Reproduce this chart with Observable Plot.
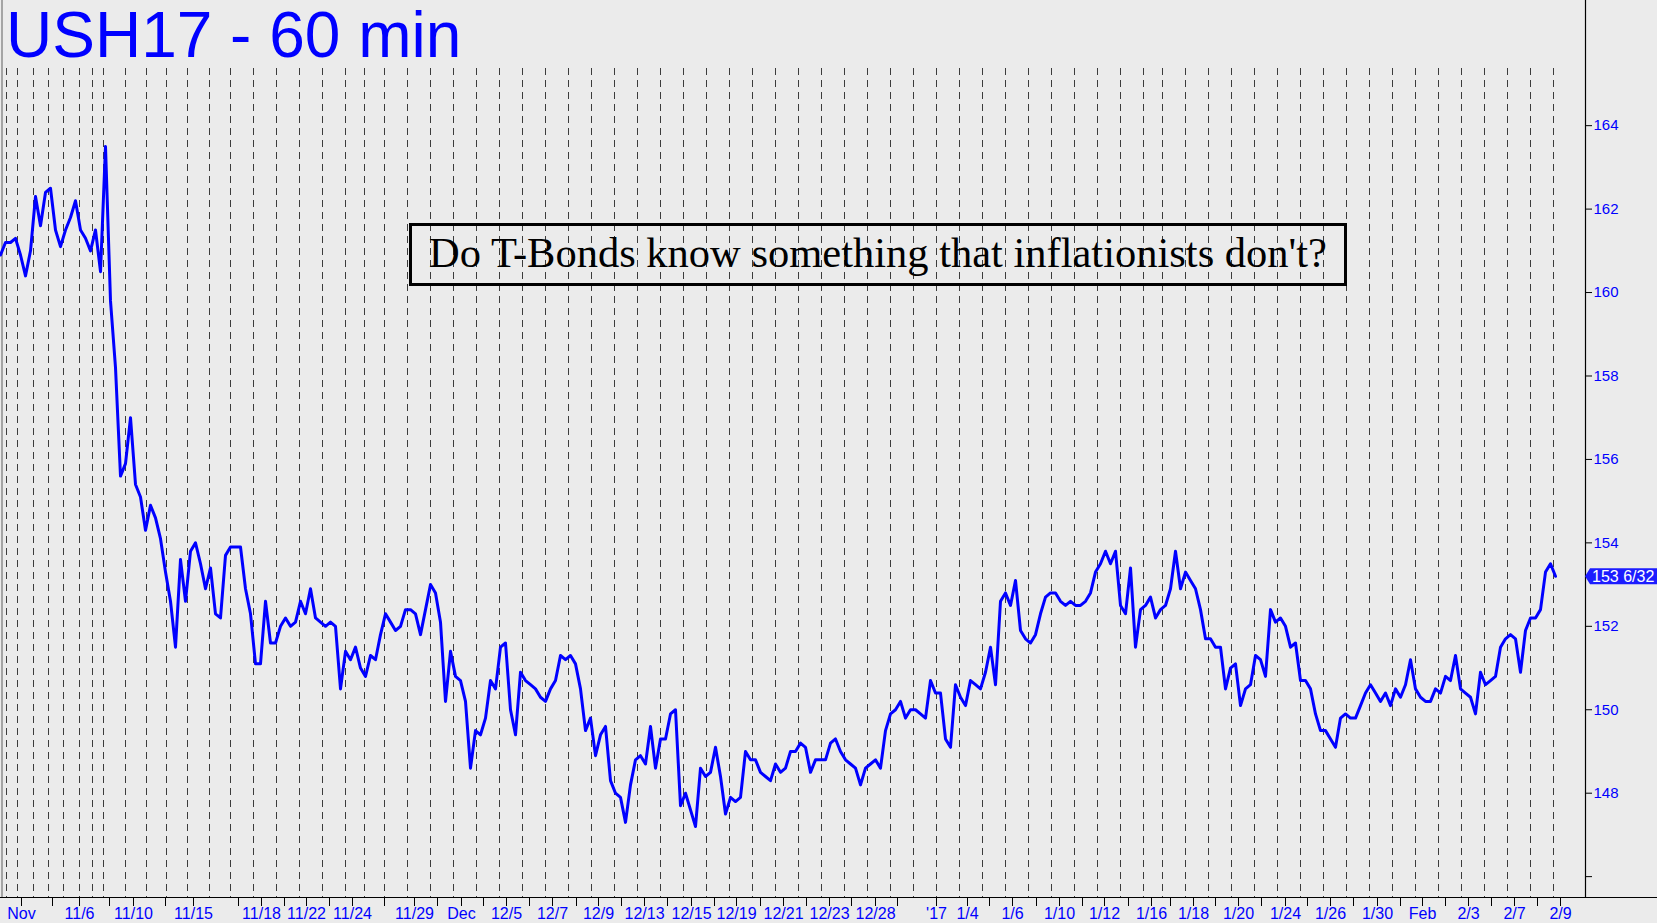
<!DOCTYPE html>
<html><head><meta charset="utf-8">
<script src="https://cdn.jsdelivr.net/npm/d3@7"></script>
<script src="https://cdn.jsdelivr.net/npm/@observablehq/plot@0.6"></script>
<style>
html,body{margin:0;padding:0;background:#ebebeb;}
#wrap{position:relative;width:1657px;height:923px;overflow:hidden;background:#ebebeb;}
#chart svg{display:block;}
#title{position:absolute;left:6px;top:2.5px;font-family:"Liberation Sans",Arial,sans-serif;font-size:64px;line-height:64px;color:#0000ff;white-space:nowrap;}
#note{position:absolute;left:409px;top:223px;width:938px;height:63px;box-sizing:border-box;border:3px solid #000;font-family:"Liberation Serif","Times New Roman",serif;font-size:42.5px;color:#000;text-align:center;line-height:53px;white-space:nowrap;}
</style></head>
<body><div id="wrap"><div id="chart"></div><div id="title">USH17 - 60 min</div><div id="note">Do T-Bonds know something that inflationists don't?</div></div>
<script>
// hourly bars, sampled every 5 bars
const barStep = 5;
const prices = [
160.9,161.2,161.2,161.3,160.9,160.4,161.0,162.3,161.6,162.4,
162.5,161.5,161.1,161.5,161.8,162.2,161.5,161.3,161.0,161.5,
160.5,163.5,159.8,158.2,155.6,155.9,157.0,155.4,155.1,154.3,
154.9,154.6,154.1,153.3,152.6,151.5,153.6,152.6,153.8,154.0,
153.5,152.9,153.4,152.3,152.2,153.7,153.9,153.9,153.9,152.9,
152.3,151.1,151.1,152.6,151.6,151.6,152.0,152.2,152.0,152.1,
152.6,152.3,152.9,152.2,152.1,152.0,152.1,152.0,150.5,151.4,
151.2,151.5,151.0,150.8,151.3,151.2,151.8,152.3,152.1,151.9,
152.0,152.4,152.4,152.3,151.8,152.4,153.0,152.8,152.1,150.2,
151.4,150.8,150.7,150.2,148.6,149.5,149.4,149.8,150.7,150.5,
151.5,151.6,150.0,149.4,150.9,150.7,150.6,150.5,150.3,150.2,
150.5,150.7,151.3,151.2,151.3,151.1,150.5,149.5,149.8,148.9,
149.4,149.6,148.3,148.0,147.9,147.3,148.2,148.8,148.9,148.7,
149.6,148.6,149.3,149.3,149.9,150.0,147.7,148.0,147.6,147.2,
148.6,148.4,148.5,149.1,148.4,147.5,147.9,147.8,147.9,149.0,
148.8,148.8,148.5,148.4,148.3,148.7,148.5,148.6,149.0,149.0,
149.2,149.1,148.5,148.8,148.8,148.8,149.2,149.3,149.0,148.8,
148.7,148.6,148.2,148.6,148.7,148.8,148.6,149.5,149.9,150.0,
150.2,149.8,150.0,150.0,149.9,149.8,150.7,150.4,150.4,149.3,
149.1,150.6,150.3,150.1,150.7,150.6,150.5,150.9,151.5,150.6,
152.6,152.8,152.5,153.1,151.9,151.7,151.6,151.8,152.3,152.7,
152.8,152.8,152.6,152.5,152.6,152.5,152.5,152.6,152.8,153.3,
153.5,153.8,153.5,153.8,152.5,152.3,153.4,151.5,152.4,152.5,
152.7,152.2,152.4,152.5,152.9,153.8,152.9,153.3,153.1,152.9,
152.4,151.7,151.7,151.5,151.5,150.5,151.0,151.1,150.1,150.5,
150.6,151.3,151.2,150.8,152.4,152.1,152.2,152.0,151.5,151.6,
150.7,150.7,150.5,149.9,149.5,149.5,149.3,149.1,149.8,149.9,
149.8,149.8,150.1,150.4,150.6,150.4,150.2,150.4,150.1,150.5,
150.3,150.6,151.2,150.5,150.3,150.2,150.2,150.5,150.4,150.8,
150.7,151.3,150.5,150.4,150.3,149.9,150.9,150.6,150.7,150.8,
151.5,151.7,151.8,151.7,150.9,151.9,152.2,152.2,152.4,153.3,
153.5,153.2
];
// bar index where each trading session starts (dashed lines)
const sessionStarts = [6,17,33,48,63,79,92,103,125,146,166,187,209,230,253,276,299,322,345,364,384,407,430,453,476,499,522,545,568,591,614,637,660,683,706,729,752,775,798,821,844,867,890,913,936,959,982,1005,1028,1051,1074,1097,1120,1143,1162,1185,1208,1231,1254,1277,1300,1323,1346,1369,1392,1415,1438,1461,1484,1507,1530,1553];
// date ticks (bar index) and their labels
const tickBars = [21,52,79,109,133,165,193,238,261,284,306,329,352,384,414,437,461,483,506,529,552,576,598,621,644,667,691,714,736,760,783,806,829,851,875,897,936,967,989,1012,1036,1059,1082,1104,1128,1151,1170,1193,1215,1238,1261,1285,1307,1330,1353,1377,1400,1422,1445,1468,1491,1514,1537,1560];
const tickLabels = ["Nov","","11/6","","11/10","","11/15","","11/18","","11/22","","11/24","","11/29","","Dec","","12/5","","12/7","","12/9","","12/13","","12/15","","12/19","","12/21","","12/23","","12/28","","'17","1/4","","1/6","","1/10","","1/12","","1/16","","1/18","","1/20","","1/24","","1/26","","1/30","","Feb","","2/3","","2/7","","2/9"];
const yTicks = [146,148,150,152,154,156,158,160,162,164];
const lastPrice = 153 + 6/32;
const lastPriceLabel = "153 6/32";
const xEnd = 1585;
const yDomain = [145.5, 167];

const W = 1657, H = 923;
const labelByBar = new Map(tickBars.map((b, i) => [b, tickLabels[i]]));
const font = "'Liberation Sans', Arial, sans-serif";

const chart = Plot.plot({
  width: W, height: H,
  marginTop: 0, marginRight: 72, marginBottom: 26, marginLeft: 0,
  style: {background: "#ebebeb", fontFamily: font, fontSize: "16px", overflow: "visible"},
  x: {domain: [0, xEnd], axis: null},
  y: {domain: yDomain, axis: null},
  marks: [
    Plot.ruleX(sessionStarts, {stroke: "#3c3c3c", strokeWidth: 1, strokeDasharray: "7,5", insetTop: 68}),
    Plot.ruleX([0], {stroke: "#8c8c8c", strokeWidth: 1.5, dx: 1.5}),
    Plot.line(prices, {x: (d, i) => i * barStep, y: d => d, stroke: "#0000ff", strokeWidth: 3, strokeLinejoin: "round"}),
    Plot.ruleX([xEnd], {stroke: "#000", strokeWidth: 1.2}),
    Plot.ruleY([yDomain[0]], {stroke: "#000", strokeWidth: 1.2, insetRight: -72}),
    Plot.axisY(yTicks, {anchor: "right", tickSize: 6, tickPadding: 2, stroke: "#000", fill: "#0000ff", fontSize: 15,
      tickFormat: d => d === 146 ? "" : String(d), label: null}),
    Plot.axisX(tickBars, {anchor: "bottom", tickSize: 9, tickPadding: 1, stroke: "#000", fill: "#0000ff", fontSize: 16,
      tickFormat: d => labelByBar.get(d) ?? "", label: null})
  ]
});
document.getElementById("chart").appendChild(chart);

// last-price flag on the right axis
const yy = chart.scale("y").apply(lastPrice);
const xx = chart.scale("x").apply(xEnd);
const svg = d3.select(chart);
const g = svg.append("g");
g.append("path")
  .attr("d", `M${xx},${yy}L${xx + 5},${yy - 8}H${W}V${yy + 8}H${xx + 5}Z`)
  .attr("fill", "#1c1cff");
g.append("text")
  .attr("x", xx + 7).attr("y", yy + 5.7)
  .attr("text-anchor", "start")
  .attr("fill", "#ffffff").attr("font-size", 16).attr("font-family", font)
  .text(lastPriceLabel);
</script>
</body></html>
